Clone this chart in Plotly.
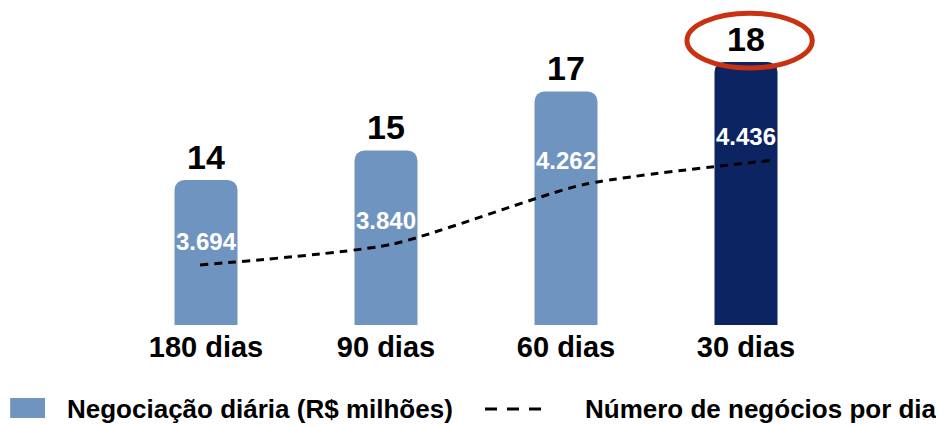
import plotly.graph_objects as go

categories = ["180 dias", "90 dias", "60 dias", "30 dias"]
negociacao = [14, 15, 17, 18]            # R$ milhões
negocios = [3694, 3840, 4262, 4436]      # número de negócios por dia
bar_colors = ["#6F94C0", "#6F94C0", "#6F94C0", "#0C2461"]

FONT = "Liberation Sans, Arial, sans-serif"

def br(v):
    return f"{v:,}".replace(",", ".")

fig = go.Figure()
fig.add_trace(go.Bar(
    x=categories, y=negociacao, width=0.35,
    marker=dict(color=bar_colors, cornerradius=10, line=dict(width=0)),
    hoverinfo="skip", showlegend=False,
))
fig.add_trace(go.Scatter(
    x=categories, y=negocios, xaxis="x2", yaxis="y2", mode="lines",
    line=dict(color="black", width=3, dash="8px,6px", shape="spline", smoothing=0.6),
    hoverinfo="skip", showlegend=False,
))

annotations = []
for c, v in zip(categories, negociacao):
    annotations.append(dict(x=c, y=v, xref="x", yref="y", text=f"<b>{v}</b>",
                            showarrow=False, yanchor="bottom", yshift=2,
                            font=dict(family=FONT, size=34, color="black")))
for c, v in zip(categories, negocios):
    annotations.append(dict(x=c, y=v, xref="x", yref="y2", text=f"<b>{br(v)}</b>",
                            showarrow=False, yanchor="middle", yshift=24,
                            font=dict(family=FONT, size=24, color="white")))
# legend texts
annotations.append(dict(x=-0.071, y=-0.267, xref="paper", yref="paper", xanchor="left",
                        yanchor="middle", showarrow=False,
                        text="<b>Negociação diária (R$ milhões)</b>",
                        font=dict(family=FONT, size=26, color="black")))
annotations.append(dict(x=0.649, y=-0.267, xref="paper", yref="paper", xanchor="left",
                        yanchor="middle", showarrow=False,
                        text="<b>Número de negócios por dia</b>",
                        font=dict(family=FONT, size=26, color="black")))

shapes = [
    # highlight ellipse around the last value
    dict(type="circle", xref="paper", yref="paper", x0=0.793, x1=0.967, y0=0.816, y1=0.99,
         line=dict(color="#C93210", width=5)),
    # legend symbols
    dict(type="rect", xref="paper", yref="paper", x0=-0.147, x1=-0.0986, y0=-0.295, y1=-0.232,
         fillcolor="#6F94C0", line=dict(width=0)),
    dict(type="line", xref="paper", yref="paper", x0=0.5125, x1=0.596, y0=-0.267, y1=-0.267,
         line=dict(color="black", width=3, dash="12px,10px")),
]

# the page body adds an 8px margin, so the figure is drawn 8px smaller
fig.update_layout(
    width=936, height=417,
    margin=dict(l=108, r=108, t=2, b=100),
    paper_bgcolor="white", plot_bgcolor="white",
    font=dict(family=FONT, color="black"),
    xaxis=dict(type="category", range=[-0.5, 3.5], showgrid=False, showline=False,
               zeroline=False, ticks="", tickfont=dict(family=FONT, size=29, color="black"),
               tickvals=categories, ticktext=[f"<b>{c}</b>" for c in categories],
               ticklabelstandoff=2),
    xaxis2=dict(type="category", range=[-0.438, 3.318], overlaying="x", visible=False),
    yaxis=dict(range=[9.08, 19.76], visible=False),
    yaxis2=dict(range=[3270, 5496], overlaying="y", visible=False),
    annotations=annotations, shapes=shapes,
    showlegend=False,
)
fig.write_html("out.html")
